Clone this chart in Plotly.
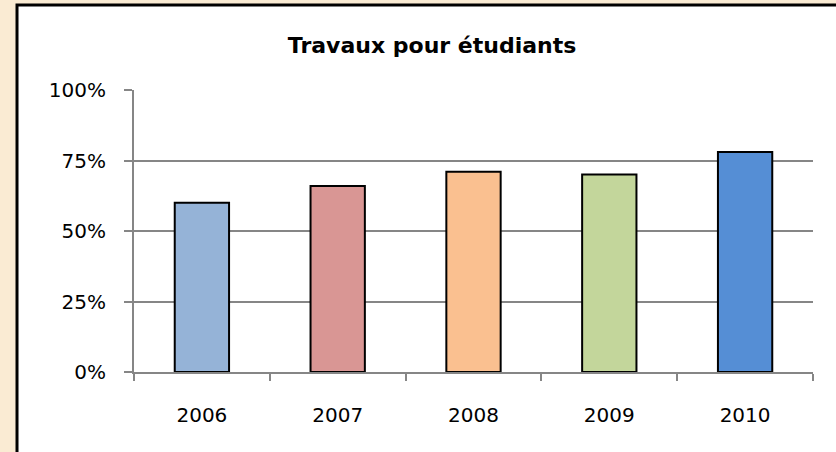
import plotly.graph_objects as go

# data
years = ['2006', '2007', '2008', '2009', '2010']
shares = [0.60, 0.66, 0.71, 0.70, 0.78]
bar_colors = ['#95B3D7', '#D99694', '#FAC090', '#C3D69B', '#558ED5']
y_ticks = [0, 0.25, 0.5, 0.75, 1.0]

fig = go.Figure()

# bars with black outline
fig.add_bar(x=years, y=shares, marker=dict(color=bar_colors, line=dict(color='black', width=2)),
            showlegend=False)

# white chart area with black border on a beige page
fig.add_shape(type='rect', xref='paper', yref='paper', x0=-0.1723, x1=1.1, y0=-0.5, y1=1.3014,
              fillcolor='white', line=dict(color='black', width=3), layer='below')

fig.update_layout(
    width=836, height=452,
    margin=dict(l=134, r=23, t=90, b=80),
    paper_bgcolor='#FAEBD3', plot_bgcolor='rgba(0,0,0,0)',
    bargap=0.6,
    title=dict(text='<b>Travaux pour étudiants</b>', x=0.439, xref='paper', xanchor='center',
               y=1 - 45 / 452, yref='container', yanchor='middle',
               font=dict(family='DejaVu Sans', size=22, color='black')),
    font=dict(family='DejaVu Sans', size=20, color='black'),
)

fig.update_xaxes(type='category', showline=True, linecolor='#868686', linewidth=2,
                 ticks='outside', tickson='boundaries', ticklen=7, tickcolor='#868686', tickwidth=2,
                 showgrid=False, ticklabelstandoff=24)

fig.update_yaxes(range=[0, 1], tickvals=y_ticks, tickformat='.0%', showline=True, linecolor='#868686',
                 linewidth=2, ticks='outside', ticklen=8, tickcolor='#868686', tickwidth=2,
                 showgrid=True, gridcolor='#868686', gridwidth=2, zeroline=False, ticklabelstandoff=14)

# drop the default body margin so the figure sits at the window's top-left corner
fig.write_html("out.html", config={'displayModeBar': False},
               post_script="document.body.style.margin='0';")
